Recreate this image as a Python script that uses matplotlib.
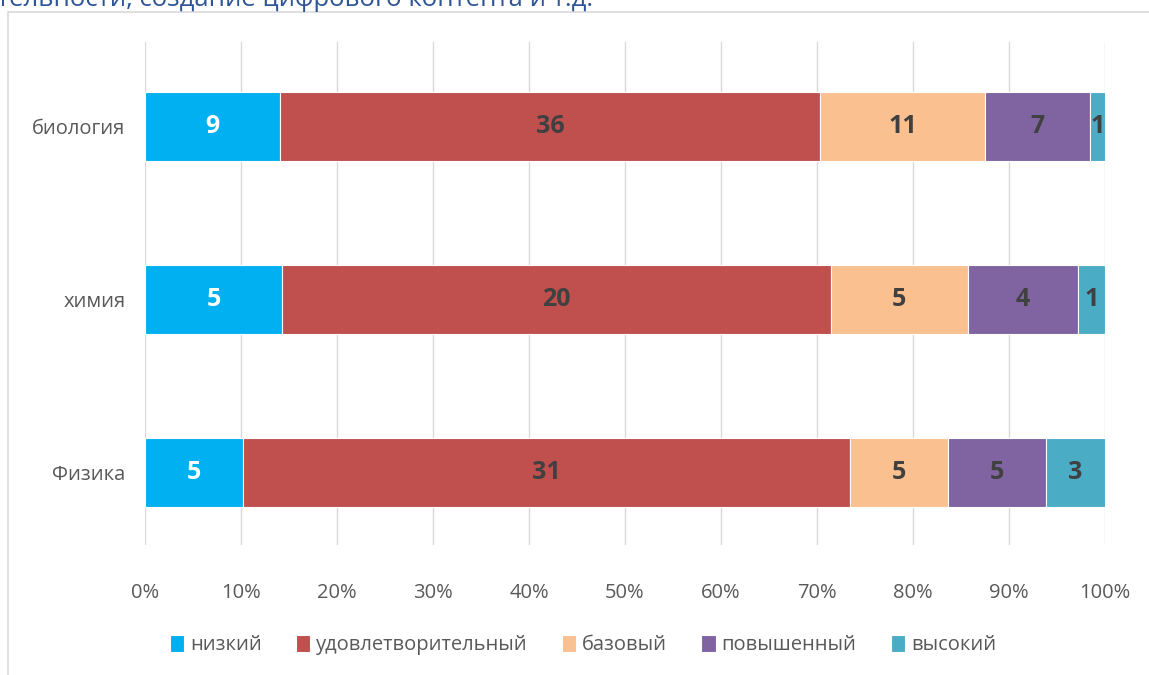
import numpy as np
import matplotlib.pyplot as plt
from matplotlib.patches import Rectangle

plt.rcParams['font.family'] = ['Open Sans', 'DejaVu Sans']

subjects = ['Физика', 'химия', 'биология']
levels = ['низкий', 'удовлетворительный', 'базовый', 'повышенный', 'высокий']
counts = {
    'низкий': [5, 5, 9],
    'удовлетворительный': [31, 20, 36],
    'базовый': [5, 5, 11],
    'повышенный': [5, 4, 7],
    'высокий': [3, 1, 1],
}
colors = ['#00B0F0', '#C0504D', '#FAC090', '#8064A2', '#4BACC6']
label_colors = ['white', '#404040', '#404040', '#404040', '#404040']

W, H = 1149, 675
fig = plt.figure(figsize=(W / 100, H / 100), dpi=100)

# chart frame and cut-off heading above it
fig.patches.append(Rectangle((8 / W, -0.1), 1.2, 1.1 - 12 / H, transform=fig.transFigure,
                             facecolor='white', edgecolor='#D9D9D9', lw=1.2, zorder=-10))
fig.text(-3 / W, 1 - 6 / H, 'тельности, создание цифрового контента и т.д.',
         color='#2F5597', fontsize=18.5, va='baseline', ha='left')

ax = fig.add_axes([145 / W, 1 - 545 / H, 960 / W, 503 / H])
ax.set_facecolor('none')
ax.set_zorder(2)

data = np.array([counts[l] for l in levels], dtype=float)
totals = data.sum(axis=0)
pct = data / totals * 100
y = np.arange(len(subjects))
left = np.zeros(len(subjects))
for i, lev in enumerate(levels):
    ax.barh(y, pct[i], left=left, height=0.4, color=colors[i], edgecolor='white',
            linewidth=0.8, label=lev, zorder=3)
    for j in range(len(subjects)):
        ax.text(left[j] + pct[i][j] / 2, y[j], '%d' % data[i][j], ha='center', va='center',
                color=label_colors[i], fontsize=18, fontweight='bold', zorder=4)
    left += pct[i]

ax.set_xlim(0, 100)
ax.set_ylim(-0.42, 2.49)
ax.set_xticks(np.arange(0, 101, 10))
ax.set_xticklabels(['%d%%' % v for v in range(0, 101, 10)])
ax.set_yticks(y)
ax.set_yticklabels(subjects)
ax.grid(axis='x', color='#D9D9D9', lw=1, zorder=0)
for s in ax.spines.values():
    s.set_visible(False)
ax.tick_params(length=0, labelsize=14.5, labelcolor='#595959')
ax.tick_params(axis='x', pad=27)
ax.tick_params(axis='y', pad=14)

fig.legend(loc='center', bbox_to_anchor=(583 / W, 1 - 645 / H), ncol=5, frameon=False,
           fontsize=14.5, handlelength=0.7, handleheight=0.9, handletextpad=0.3,
           columnspacing=1.7, labelcolor='#595959')

fig.savefig('out.png', dpi=100)
